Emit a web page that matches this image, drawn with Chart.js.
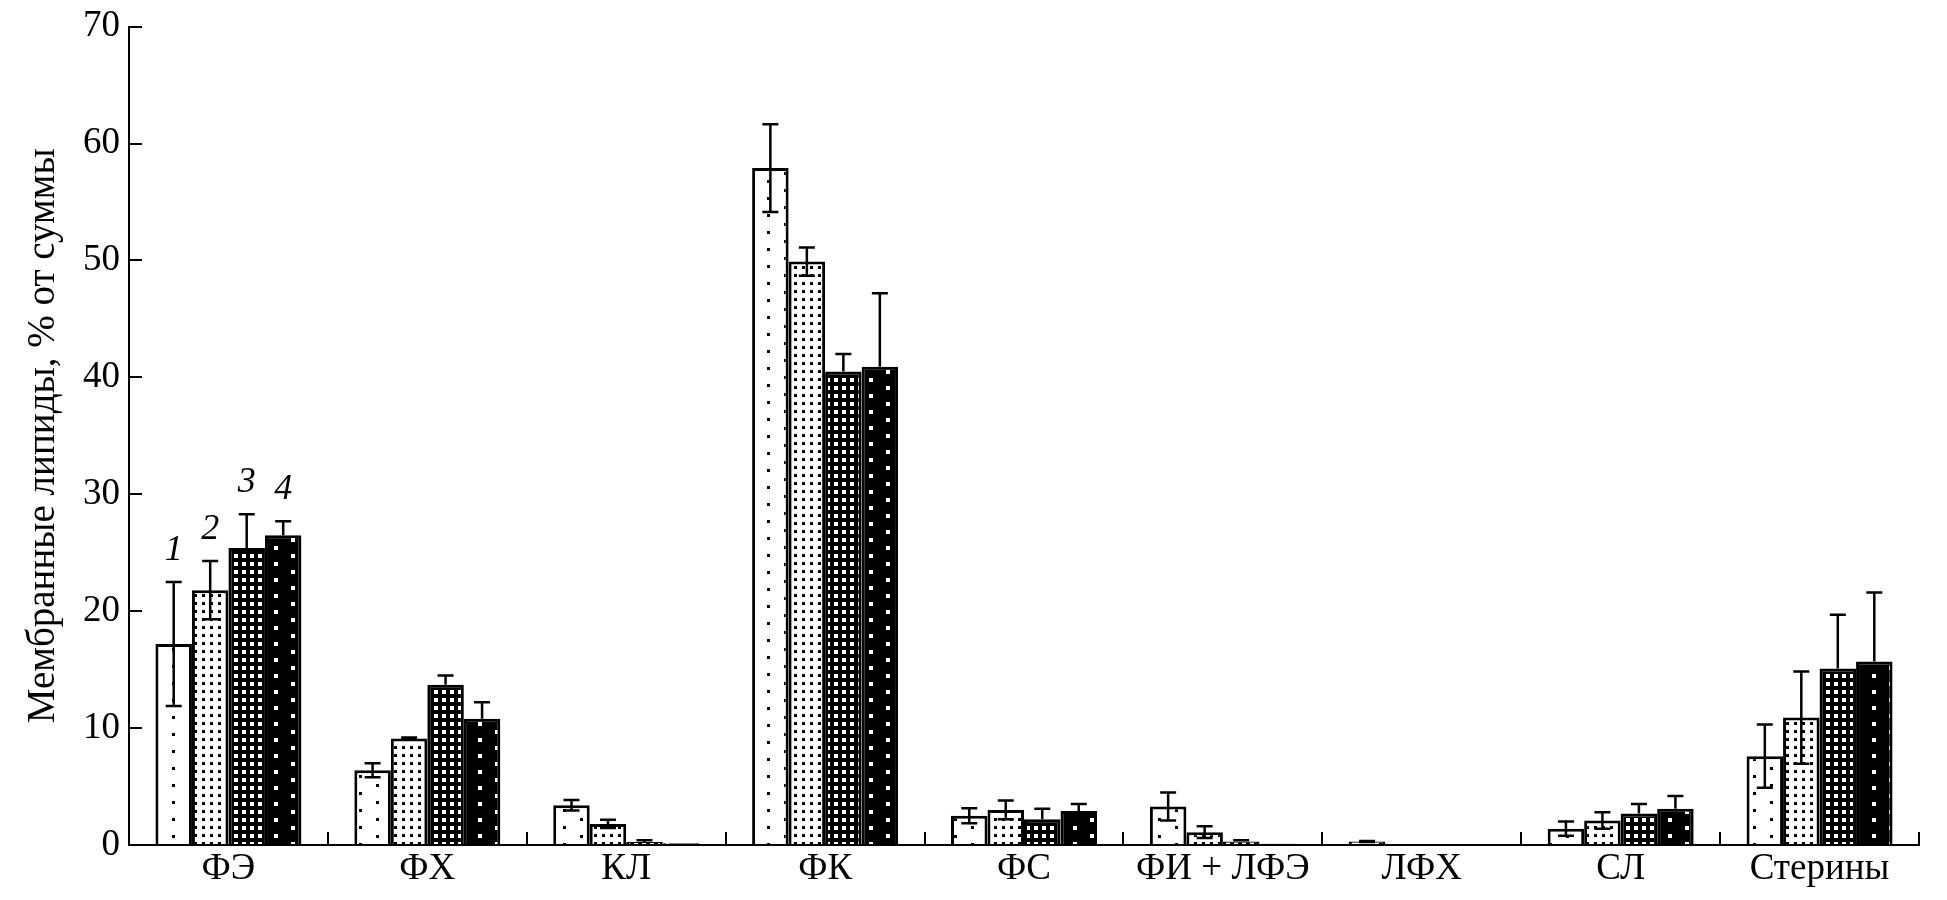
<!DOCTYPE html>
<html>
<head>
<meta charset="utf-8">
<script src="https://cdn.jsdelivr.net/npm/chart.js@4.4.1/dist/chart.umd.min.js"></script>
<style>
  html, body { margin: 0; padding: 0; background: #fff; }
  canvas { display: block; }
</style>
</head>
<body>
<canvas id="lipidChart" width="1947" height="900"></canvas>
<script>
// Categories and series (membrane lipids, % of total)
const categories = ['ФЭ', 'ФХ', 'КЛ', 'ФК', 'ФС', 'ФИ + ЛФЭ', 'ЛФХ', 'СЛ', 'Стерины'];
const seriesLabels = ['1', '2', '3', '4'];

const values1 = [17.2, 6.4, 3.4, 57.9, 2.5, 3.3, 0.3, 1.4, 7.6];
const values2 = [21.8, 9.1, 1.8, 49.9, 3.0, 1.1, 0, 2.1, 10.9];
const values3 = [25.4, 13.7, 0.25, 40.5, 2.2, 0.3, 0, 2.7, 15.1];
const values4 = [26.5, 10.8, 0.15, 40.9, 2.9, 0.1, 0, 3.1, 15.7];

const errors1 = [5.3, 0.6, 0.45, 3.75, 0.65, 1.2, 0.05, 0.6, 2.7];
const errors2 = [2.5, 0.1, 0.35, 1.2, 0.8, 0.5, 0, 0.7, 3.95];
const errors3 = [2.9, 0.8, 0.15, 1.5, 0.9, 0.1, 0, 0.8, 4.6];
const errors4 = [1.2, 1.4, 0, 6.3, 0.6, 0, 0, 1.1, 5.9];

const yMin = 0;
const yMax = 70;
const yStep = 10;

const FONT = "'Liberation Serif', 'Times New Roman', serif";

// Fill patterns for the four bar types
function makePattern(w, h, bg, fg, dots, size) {
    const c = document.createElement('canvas');
    c.width = w;
    c.height = h;
    const g = c.getContext('2d');
    g.fillStyle = bg;
    g.fillRect(0, 0, w, h);
    g.fillStyle = fg;
    dots.forEach(d => g.fillRect(d[0], d[1], size, size));
    return g.createPattern(c, 'repeat');
}

const ctx = document.getElementById('lipidChart').getContext('2d');

const patterns = [
    makePattern(34, 17, '#fff', '#000', [[2, 2], [19, 10]], 3),
    makePattern(8, 8, '#fff', '#000', [[2, 2]], 3),
    makePattern(8, 8, '#000', '#fff', [[2, 2]], 4),
    makePattern(34, 16, '#000', '#fff', [[2, 2], [19, 10]], 4)
];

// Error bars + the italic series numbers above the first group
const errorBarsPlugin = {
    id: 'errorBars',
    afterDatasetsDraw(chart) {
        const c = chart.ctx;
        const y = chart.scales.y;
        c.save();
        c.strokeStyle = '#000';
        c.lineWidth = 2.5;
        chart.data.datasets.forEach((ds, di) => {
            const meta = chart.getDatasetMeta(di);
            meta.data.forEach((bar, i) => {
                const v = ds.data[i];
                const e = ds.errors[i];
                const top = y.getPixelForValue(v + e);
                if (e > 0) {
                    const bottom = ds.lowerError ? y.getPixelForValue(Math.max(v - e, 0)) : bar.y;
                    c.beginPath();
                    c.moveTo(bar.x, top);
                    c.lineTo(bar.x, bottom);
                    c.moveTo(bar.x - 8, top);
                    c.lineTo(bar.x + 8, top);
                    if (ds.lowerError) {
                        c.moveTo(bar.x - 8, bottom);
                        c.lineTo(bar.x + 8, bottom);
                    }
                    c.stroke();
                }
                if (i === 0) {
                    c.fillStyle = '#000';
                    c.font = 'italic 36px ' + FONT;
                    c.textAlign = 'center';
                    c.textBaseline = 'alphabetic';
                    c.fillText(seriesLabels[di], bar.x, top - 22);
                }
            });
        });
        c.restore();
    }
};

const seriesValues = [values1, values2, values3, values4];
const seriesErrors = [errors1, errors2, errors3, errors4];

new Chart(ctx, {
    type: 'bar',
    data: {
        labels: categories,
        datasets: seriesValues.map((vals, k) => ({
            label: seriesLabels[k],
            data: vals,
            errors: seriesErrors[k],
            lowerError: k < 2,
            backgroundColor: patterns[k],
            borderColor: '#000',
            borderWidth: 3,
            categoryPercentage: 0.734,
            barPercentage: 1.0
        }))
    },
    options: {
        responsive: false,
        animation: false,
        devicePixelRatio: 1,
        layout: { padding: { left: 0, right: 28, top: 0, bottom: 0 } },
        plugins: {
            legend: { display: false },
            tooltip: { enabled: false }
        },
        scales: {
            x: {
                offset: true,
                border: { display: true, color: '#000', width: 2 },
                grid: {
                    offset: true,
                    drawOnChartArea: false,
                    drawTicks: true,
                    tickLength: -13,
                    color: '#000',
                    lineWidth: 2
                },
                ticks: {
                    color: '#000',
                    padding: 15,
                    font: { family: FONT, size: 37 }
                },
                afterFit(scale) { scale.height = 55; }
            },
            y: {
                min: yMin,
                max: yMax,
                border: { display: true, color: '#000', width: 2 },
                grid: {
                    drawOnChartArea: false,
                    drawTicks: true,
                    tickLength: -13,
                    color: '#000',
                    lineWidth: 2
                },
                ticks: {
                    stepSize: yStep,
                    color: '#000',
                    padding: 22,
                    font: { family: FONT, size: 37, lineHeight: 0.25 }
                },
                title: {
                    display: true,
                    text: 'Мембранные липиды, % от суммы',
                    color: '#000',
                    padding: { top: 20, bottom: 0 },
                    font: { family: FONT, size: 39 }
                },
                afterFit(scale) { scale.width = 129; }
            }
        }
    },
    plugins: [errorBarsPlugin]
});
</script>
</body>
</html>
